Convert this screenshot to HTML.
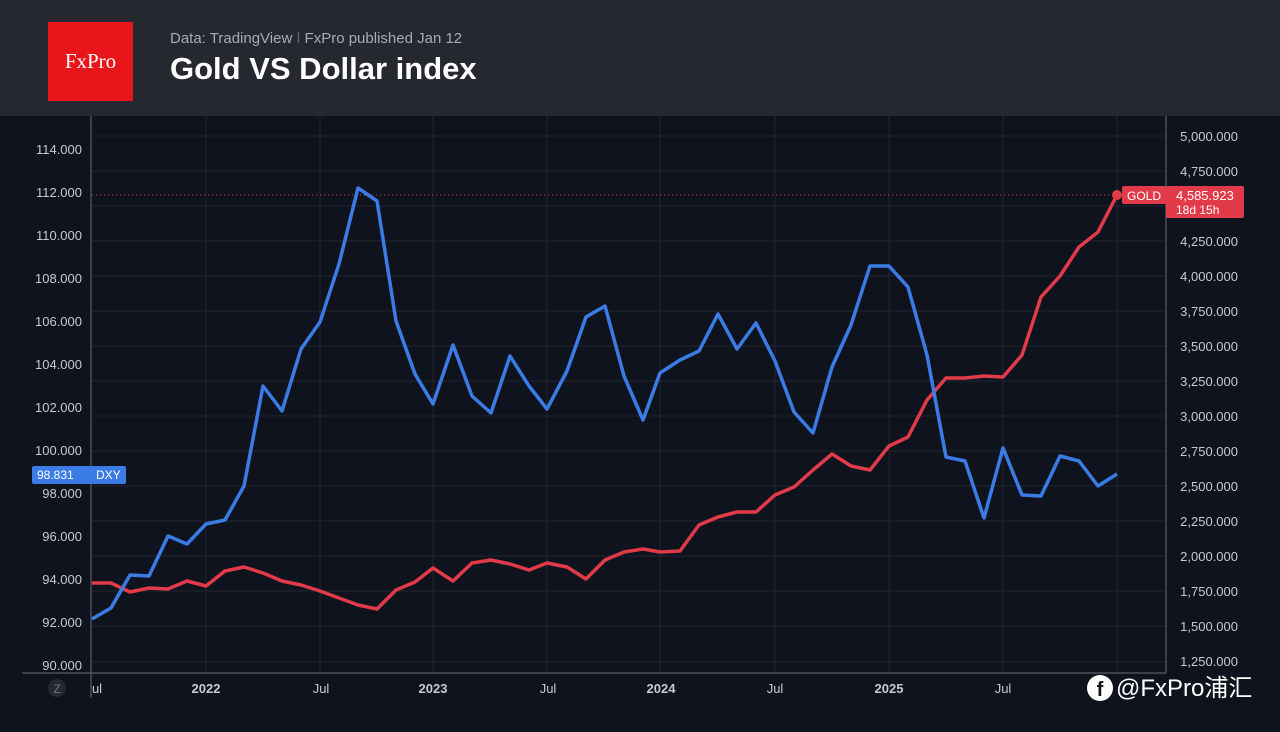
<!DOCTYPE html>
<html><head><style>
body{margin:0;width:1280px;height:732px;background:#0f131d;overflow:hidden;font-family:"Liberation Sans",sans-serif;}
#hdr{position:absolute;left:0;top:0;width:1280px;height:116px;background:#262830;}
#logo{position:absolute;left:48px;top:22px;width:85px;height:79px;background:#e8151b;color:#fff;font-family:"Liberation Serif",serif;font-size:21px;text-align:center;line-height:79px;}
#sub{position:absolute;left:170px;top:30px;color:#a9abb2;font-size:15px;}
#ttl{position:absolute;left:170px;top:51px;color:#fff;font-size:31px;font-weight:bold;}
</style></head><body>
<div id="hdr"><div id="logo">FxPro</div><div id="sub">Data: TradingView <span style="color:#666">ǀ</span> FxPro published Jan 12</div><div id="ttl">Gold VS Dollar index</div></div>
<svg width="1280" height="732" style="position:absolute;left:0;top:0" font-family="Liberation Sans, sans-serif">
<g stroke="#1f2431" stroke-width="1">
<line x1="206" y1="116" x2="206" y2="673"/><line x1="320" y1="116" x2="320" y2="673"/><line x1="433" y1="116" x2="433" y2="673"/><line x1="547" y1="116" x2="547" y2="673"/><line x1="660" y1="116" x2="660" y2="673"/><line x1="775" y1="116" x2="775" y2="673"/><line x1="889" y1="116" x2="889" y2="673"/><line x1="1003" y1="116" x2="1003" y2="673"/><line x1="1117" y1="116" x2="1117" y2="673"/>
<line x1="92" y1="136" x2="1165" y2="136"/><line x1="92" y1="171" x2="1165" y2="171"/><line x1="92" y1="206" x2="1165" y2="206"/><line x1="92" y1="241" x2="1165" y2="241"/><line x1="92" y1="276" x2="1165" y2="276"/><line x1="92" y1="311" x2="1165" y2="311"/><line x1="92" y1="346" x2="1165" y2="346"/><line x1="92" y1="381" x2="1165" y2="381"/><line x1="92" y1="416" x2="1165" y2="416"/><line x1="92" y1="451" x2="1165" y2="451"/><line x1="92" y1="486" x2="1165" y2="486"/><line x1="92" y1="521" x2="1165" y2="521"/><line x1="92" y1="556" x2="1165" y2="556"/><line x1="92" y1="591" x2="1165" y2="591"/><line x1="92" y1="626" x2="1165" y2="626"/><line x1="92" y1="662" x2="1165" y2="662"/>
</g>
<line x1="91" y1="116" x2="91" y2="698" stroke="#6a6e78"/>
<line x1="1166" y1="116" x2="1166" y2="673" stroke="#6a6e78"/>
<line x1="22" y1="673" x2="1166" y2="673" stroke="#6a6e78"/>
<line x1="92" y1="195" x2="1120" y2="195" stroke="#e0404e" stroke-dasharray="1,3"/>
<g fill="#c8cad0" font-size="13" text-anchor="end">
<text x="82" y="154">114.000</text><text x="82" y="197">112.000</text><text x="82" y="240">110.000</text><text x="82" y="283">108.000</text><text x="82" y="326">106.000</text><text x="82" y="369">104.000</text><text x="82" y="412">102.000</text><text x="82" y="455">100.000</text><text x="82" y="498">98.000</text><text x="82" y="541">96.000</text><text x="82" y="584">94.000</text><text x="82" y="627">92.000</text><text x="82" y="670">90.000</text>
</g>
<g fill="#c8cad0" font-size="13" text-anchor="end">
<text x="1238" y="141">5,000.000</text><text x="1238" y="176">4,750.000</text><text x="1238" y="246">4,250.000</text><text x="1238" y="281">4,000.000</text><text x="1238" y="316">3,750.000</text><text x="1238" y="351">3,500.000</text><text x="1238" y="386">3,250.000</text><text x="1238" y="421">3,000.000</text><text x="1238" y="456">2,750.000</text><text x="1238" y="491">2,500.000</text><text x="1238" y="526">2,250.000</text><text x="1238" y="561">2,000.000</text><text x="1238" y="596">1,750.000</text><text x="1238" y="631">1,500.000</text><text x="1238" y="666">1,250.000</text>
</g>
<g fill="#c8cad0" font-size="13" text-anchor="middle">
<text x="97" y="693">ul</text><text x="206" y="693" font-weight="bold">2022</text><text x="321" y="693">Jul</text><text x="433" y="693" font-weight="bold">2023</text><text x="548" y="693">Jul</text><text x="661" y="693" font-weight="bold">2024</text><text x="775" y="693">Jul</text><text x="889" y="693" font-weight="bold">2025</text><text x="1003" y="693">Jul</text>
</g>
<circle cx="57" cy="688" r="9" fill="#252830"/><text x="57" y="693" fill="#777" font-size="12" text-anchor="middle">Z</text>
<polyline fill="none" stroke="#e23a48" stroke-width="3.5" stroke-linejoin="round" points="92,583 111,583 130,592 149,588 168,589 187,581 206,586 225,571 244,567 263,573 282,581 301,585 320,591 339,598 358,605 377,609 396,590 415,582 433,568 453,581 472,563 491,560 510,564 529,570 547,563 567,567 586,579 605,560 624,552 643,549 660,552 680,551 699,525 718,517 737,512 756,512 775,495 794,487 813,470 832,454 851,466 870,470 889,446 908,437 927,400 946,378 965,378 984,376 1003,377 1022,355 1041,297 1060,276 1079,247 1098,232 1117,195"/>
<polyline fill="none" stroke="#3b7be6" stroke-width="3.5" stroke-linejoin="round" points="92,619 111,608 130,575 149,576 168,536 187,544 206,524 225,520 244,486 263,386 282,411 301,349 320,322 339,264 358,188 377,201 396,321 415,374 433,404 453,345 472,396 491,413 510,356 529,386 547,409 567,371 586,317 605,306 624,376 643,420 660,373 680,360 699,351 718,314 737,349 756,323 775,361 794,412 813,433 832,367 851,325 870,266 889,266 908,287 927,355 946,457 965,461 984,518 1003,448 1022,495 1041,496 1060,456 1079,461 1098,486 1117,474"/>
<circle cx="1117" cy="195" r="5" fill="#e23a48"/>
<rect x="1122" y="186" width="44" height="18" rx="2" fill="#e23a48"/><text x="1144" y="200" fill="#fff" font-size="12" text-anchor="middle">GOLD</text>
<rect x="1166" y="186" width="78" height="32" rx="2" fill="#e23a48"/><text x="1176" y="200" fill="#fff" font-size="13">4,585.923</text><text x="1176" y="214" fill="#fff" font-size="12">18d 15h</text>
<rect x="32" y="466" width="94" height="18" rx="2" fill="#3b7be6"/><text x="37" y="479" fill="#fff" font-size="12">98.831</text><text x="96" y="479" fill="#fff" font-size="12">DXY</text>
<circle cx="1100" cy="688" r="13" fill="#fff"/><text x="1100" y="696" fill="#0f131d" font-size="20" font-weight="bold" text-anchor="middle">f</text>
<text x="1116" y="696" fill="#fff" font-size="24" font-family="Liberation Sans, Noto Sans CJK SC, sans-serif">@FxPro浦汇</text>
</svg>
</body></html>
